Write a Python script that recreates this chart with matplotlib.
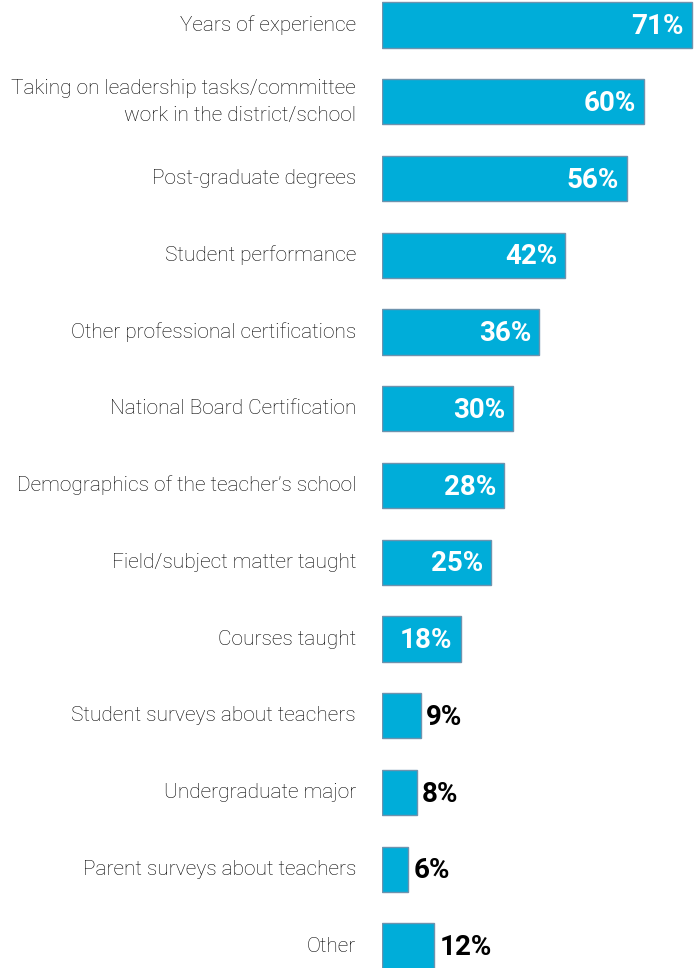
import matplotlib
matplotlib.use("Agg")
import matplotlib.pyplot as plt

categories = [
    "Years of experience",
    "Taking on leadership tasks/committee\nwork in the district/school",
    "Post-graduate degrees",
    "Student performance",
    "Other professional certifications",
    "National Board Certification",
    "Demographics of the teacher\u2019s school",
    "Field/subject matter taught",
    "Courses taught",
    "Student surveys about teachers",
    "Undergraduate major",
    "Parent surveys about teachers",
    "Other",
]
values = [71, 60, 56, 42, 36, 30, 28, 25, 18, 9, 8, 6, 12]
value_labels = [f"{v}%" for v in values]
inside_threshold = 15

W, H = 695, 968
fig = plt.figure(figsize=(W / 100, H / 100), dpi=100)
left, right = 382, 695
ax = fig.add_axes([left / W, 0, (right - left) / W, 1])

step = 76.75
top_center = 25
px = 310 / 71
xmax = (right - left) / px
ax.set_xlim(0, xmax)
ax.set_ylim((H - top_center) / step, -top_center / step)

ys = list(range(len(categories)))
ax.barh(ys, values, height=0.59, color="#00ADD9", edgecolor="#6E93AE", linewidth=1.0)

for y, v, lab in zip(ys, values, value_labels):
    if v >= inside_threshold:
        ax.text(v - 8 / px, y + 0.02, lab, ha="right", va="center", color="white",
                fontsize=20, fontweight="bold", family="Roboto")
    else:
        ax.text(v + 5 / px, y + 0.02, lab, ha="left", va="center", color="black",
                fontsize=20, fontweight="bold", family="Roboto")

for y, c in zip(ys, categories):
    ax.text(-26 / px, y, c, ha="right", va="center", color="#000000",
            fontsize=15, fontweight="light", family="Roboto", linespacing=1.5,
            clip_on=False)

ax.axis("off")
fig.savefig("out.png", dpi=100)
